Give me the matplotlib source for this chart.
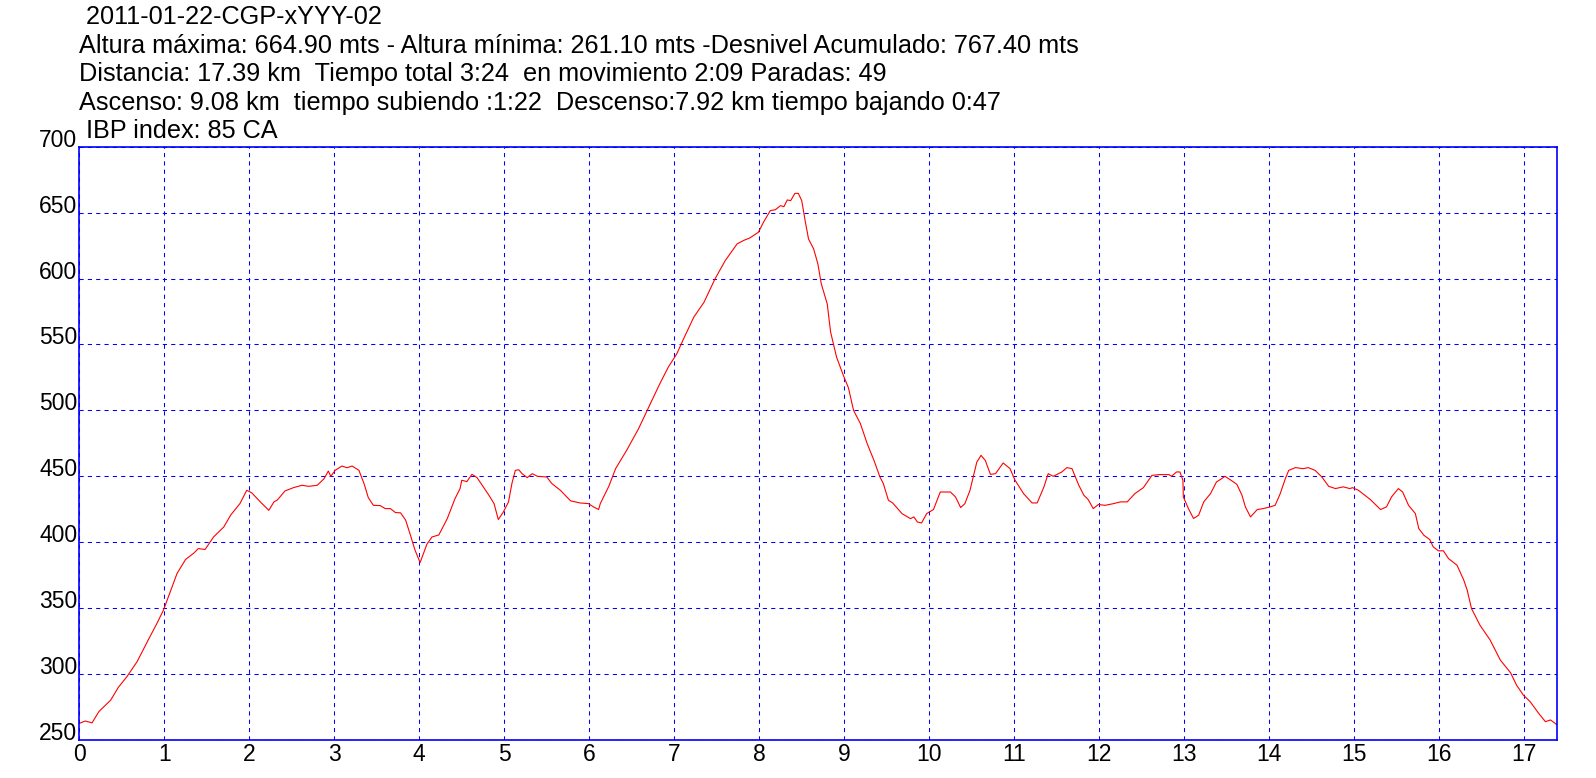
import matplotlib
matplotlib.use("Agg")
import matplotlib.pyplot as plt

# perfil de altura: distancia (km) / altura (m)
dist_km = [0.0, 0.07, 0.15, 0.23, 0.37, 0.46, 0.56, 0.68, 0.82, 0.91, 0.99,
           1.07, 1.15, 1.25, 1.35, 1.40, 1.48, 1.58, 1.70, 1.78, 1.89, 1.97,
           2.03, 2.13, 2.23, 2.29, 2.33, 2.42, 2.52, 2.62, 2.70, 2.80, 2.88,
           2.93, 2.96, 3.01, 3.09, 3.15, 3.21, 3.29, 3.35, 3.40, 3.46, 3.54,
           3.60, 3.66, 3.72, 3.78, 3.84, 3.89, 3.95, 4.01, 4.09, 4.15, 4.23,
           4.33, 4.42, 4.48, 4.50, 4.56, 4.62, 4.68, 4.74, 4.82, 4.88, 4.93,
           4.99, 5.05, 5.09, 5.13, 5.17, 5.21, 5.27, 5.33, 5.39, 5.50, 5.56,
           5.66, 5.78, 5.89, 5.99, 6.05, 6.11, 6.13, 6.23, 6.31, 6.44, 6.58,
           6.70, 6.83, 6.93, 7.03, 7.11, 7.23, 7.35, 7.48, 7.60, 7.74, 7.82,
           7.89, 7.99, 8.05, 8.13, 8.19, 8.25, 8.29, 8.33, 8.37, 8.42, 8.46,
           8.50, 8.54, 8.58, 8.64, 8.69, 8.73, 8.80, 8.84, 8.91, 8.99, 9.05,
           9.11, 9.19, 9.27, 9.35, 9.42, 9.46, 9.52, 9.57, 9.68, 9.78, 9.82,
           9.86, 9.91, 9.97, 10.05, 10.13, 10.25, 10.31, 10.37, 10.42, 10.48,
           10.56, 10.61, 10.66, 10.72, 10.78, 10.87, 10.95, 11.01, 11.11,
           11.21, 11.27, 11.35, 11.40, 11.46, 11.56, 11.62, 11.68, 11.76,
           11.82, 11.87, 11.93, 11.99, 12.07, 12.17, 12.25, 12.33, 12.42,
           12.52, 12.62, 12.71, 12.82, 12.85, 12.91, 12.95, 12.985, 12.99,
           13.05, 13.11, 13.17, 13.23, 13.31, 13.38, 13.44, 13.48, 13.54,
           13.62, 13.68, 13.72, 13.78, 13.86, 13.93, 14.01, 14.07, 14.13,
           14.19, 14.23, 14.31, 14.40, 14.46, 14.54, 14.62, 14.70, 14.78,
           14.87, 14.95, 14.98, 15.05, 15.19, 15.31, 15.38, 15.44, 15.52,
           15.57, 15.64, 15.72, 15.76, 15.82, 15.89, 15.93, 15.99, 16.05,
           16.11, 16.21, 16.29, 16.33, 16.38, 16.48, 16.60, 16.72, 16.84,
           16.91, 16.99, 17.07, 17.17, 17.25, 17.31, 17.39]
altura_m = [262.6, 264.4, 263.0, 271.5, 280.3, 290.0, 298.0, 309.4, 327.0,
            338.0, 348.5, 362.4, 376.3, 386.9, 391.9, 395.2, 394.5, 404.0,
            411.6, 420.5, 429.3, 439.4, 437.4, 430.6, 424.2, 430.6, 432.0,
            438.9, 441.4, 443.2, 442.4, 443.2, 448.2, 454.0, 450.0, 454.5,
            457.8, 456.5, 457.8, 454.5, 444.5, 433.9, 428.0, 427.8, 425.5,
            425.5, 422.5, 422.3, 416.7, 406.6, 394.0, 384.6, 398.5, 404.0,
            405.5, 418.0, 433.0, 440.7, 447.0, 446.0, 451.5, 449.0, 443.2,
            435.6, 429.3, 417.2, 423.0, 430.6, 444.5, 454.5, 455.0, 452.0,
            449.0, 452.0, 450.0, 449.5, 444.5, 439.4, 431.4, 429.8, 429.3,
            426.8, 424.8, 429.3, 442.4, 455.8, 469.7, 486.1, 502.5, 520.2,
            532.8, 542.9, 554.3, 570.7, 582.0, 599.8, 613.6, 626.3, 629.0,
            630.8, 635.1, 642.7, 651.5, 652.2, 655.3, 654.5, 659.6, 659.1,
            664.6, 664.6, 659.1, 644.0, 630.0, 622.5, 611.1, 596.0, 580.8,
            559.3, 540.4, 526.5, 517.0, 500.0, 490.0, 474.8, 462.1, 449.5,
            444.5, 431.8, 429.8, 421.7, 417.9, 419.2, 415.4, 414.6, 421.7,
            424.8, 438.1, 438.1, 434.3, 426.3, 429.3, 439.4, 460.8, 465.9,
            462.0, 451.5, 452.0, 460.1, 455.9, 447.0, 436.9, 429.8, 429.8,
            442.0, 452.0, 450.0, 453.3, 456.6, 455.8, 443.2, 435.6, 432.4,
            425.5, 428.6, 428.0, 429.3, 430.6, 430.6, 436.9, 441.4, 450.7,
            451.3, 451.3, 450.0, 453.3, 453.3, 447.0, 434.4, 425.5, 418.0,
            420.5, 430.6, 436.9, 445.7, 448.2, 450.0, 447.5, 443.9, 435.6,
            426.8, 419.2, 424.8, 425.5, 426.8, 428.0, 436.9, 448.2, 454.5,
            456.6, 455.8, 456.6, 454.5, 449.5, 442.4, 440.7, 442.0, 440.7,
            441.4, 439.4, 432.4, 424.8, 426.8, 434.4, 440.7, 438.1, 428.0,
            421.7, 410.4, 405.3, 402.0, 396.5, 393.5, 393.5, 387.6, 382.6,
            371.2, 363.6, 349.8, 337.1, 325.8, 310.6, 301.0, 291.7, 284.1,
            279.1, 270.3, 263.9, 265.2, 261.4]

x_ticks = list(range(0, 18))
y_ticks = [250, 300, 350, 400, 450, 500, 550, 600, 650, 700]

header = [
    (" 2011-01-22-CGP-xYYY-02", 24),
    ("Altura máxima: 664.90 mts - Altura mínima: 261.10 mts -Desnivel Acumulado: 767.40 mts", 53),
    ("Distancia: 17.39 km  Tiempo total 3:24  en movimiento 2:09 Paradas: 49", 81.5),
    ("Ascenso: 9.08 km  tiempo subiendo :1:22  Descenso:7.92 km tiempo bajando 0:47", 110),
    (" IBP index: 85 CA", 138.5),
]

W, H = 1596, 778
plt.rcParams['font.family'] = ['Liberation Sans', 'DejaVu Sans']
fig = plt.figure(figsize=(W / 100, H / 100), dpi=100)
ax = fig.add_axes([79.3 / W, 1 - 740 / H, (1557.3 - 79.3) / W, (740 - 146.7) / H])

ax.plot(dist_km, altura_m, color='#ff0000', linewidth=0.8)
ax.set_xlim(0, 17.39)
ax.set_ylim(250, 700)
ax.set_xticks(x_ticks)
ax.set_yticks(y_ticks)
ax.grid(True, color='#0000ff', linestyle=(0, (4, 4)), linewidth=0.75)
ax.tick_params(length=0, labelsize=16.5, colors='black')
ax.tick_params(axis='x', pad=2)
ax.tick_params(axis='y', pad=1.5)
for lab in ax.get_yticklabels():
    lab.set_va('baseline')
for s in ax.spines.values():
    s.set_color('#0000ff')
    s.set_linewidth(1.2)

for txt, base in header:
    fig.text(79.3 / W, 1 - base / H, txt, fontsize=18.2, va='baseline', ha='left')

fig.savefig("out.png", dpi=100)
